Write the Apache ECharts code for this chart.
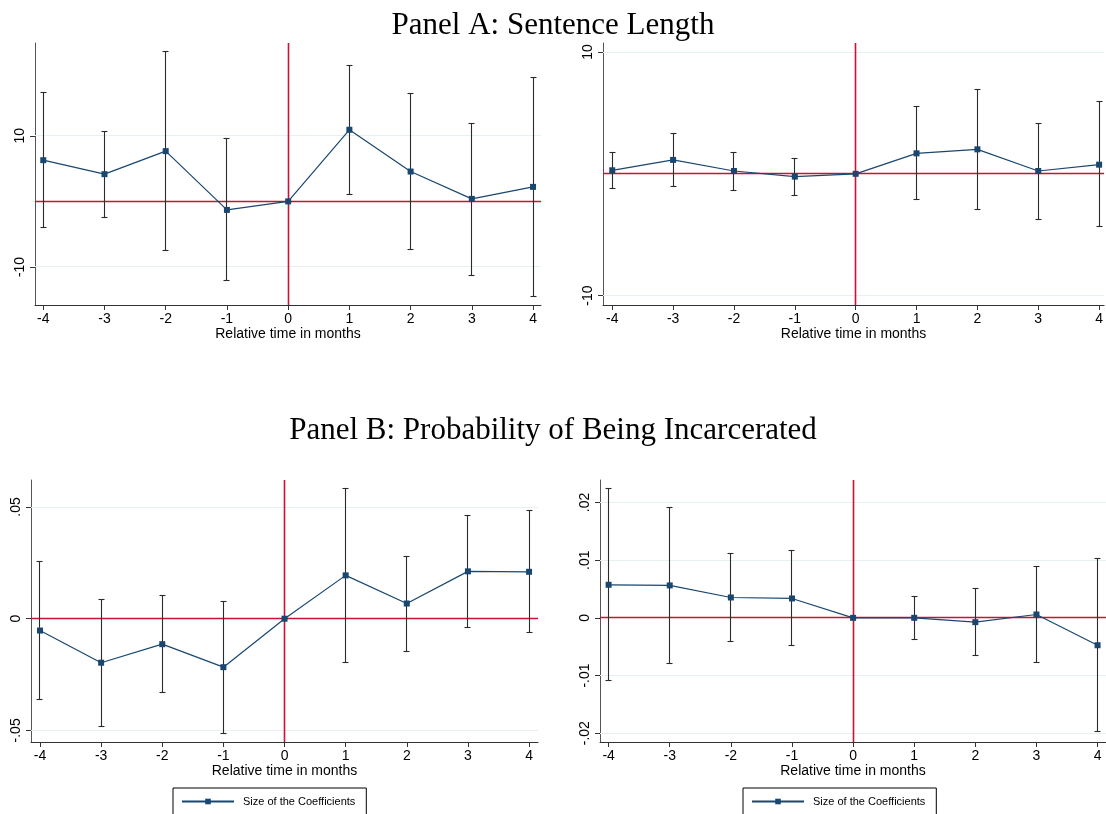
<!DOCTYPE html>
<html>
<head>
<meta charset="utf-8">
<script src="https://cdn.jsdelivr.net/npm/echarts@6/dist/echarts.min.js"></script>
<style>
  html, body { margin: 0; padding: 0; background: #fff; }
  #chart { width: 1106px; height: 814px; }
</style>
</head>
<body>
<div id="chart"></div>
<script>
// ---------------- data ----------------
const months = [-4, -3, -2, -1, 0, 1, 2, 3, 4];

// Panel A (Sentence Length), left plot
const aLeftCoef = [6.28, 4.15, 7.66, -1.30, 0, 10.92, 4.55, 0.38, 2.21];
const aLeftLow  = [-3.94, -2.42, -7.56, -12.10, 0, 1.09, -7.30, -11.27, -14.43];
const aLeftHigh = [16.56, 10.66, 22.82, 9.64, 0, 20.74, 16.51, 11.88, 18.96];

// Panel A (Sentence Length), right plot
const aRightCoef = [0.29, 1.14, 0.23, -0.23, 0, 1.68, 2.01, 0.23, 0.75];
const aRightLow  = [-1.19, -1.05, -1.33, -1.74, 0, -2.12, -2.97, -3.76, -4.34];
const aRightHigh = [1.76, 3.35, 1.79, 1.27, 0, 5.49, 6.96, 4.17, 5.90];

// Panel B (Probability of Being Incarcerated), left plot
const bLeftCoef = [-0.0053, -0.0197, -0.0114, -0.0217, 0, 0.0194, 0.0068, 0.0212, 0.0210];
const bLeftLow  = [-0.0362, -0.0481, -0.0330, -0.0512, 0, -0.0195, -0.0146, -0.0041, -0.0062];
const bLeftHigh = [0.0256, 0.0086, 0.0104, 0.0077, 0, 0.0584, 0.0280, 0.0464, 0.0484];

// Panel B (Probability of Being Incarcerated), right plot
const bRightCoef = [0.00573, 0.00562, 0.00353, 0.00336, 0, 0, -0.00075, 0.00058, -0.00475];
const bRightLow  = [-0.01083, -0.00787, -0.00411, -0.00486, 0, -0.0037, -0.00654, -0.0077, -0.0197];
const bRightHigh = [0.02246, 0.01916, 0.01123, 0.01169, 0, 0.00376, 0.00504, 0.00886, 0.0103];

// tick values and labels
const aLeftYTicks = [-10, 10];
const aLeftYLabels = ['-10', '10'];
const aRightYTicks = [-10, 10];
const aRightYLabels = ['-10', '10'];
const bLeftYTicks = [-0.05, 0, 0.05];
const bLeftYLabels = ['-.05', '0', '.05'];
const bRightYTicks = [-0.02, -0.01, 0, 0.01, 0.02];
const bRightYLabels = ['-.02', '-.01', '0', '.01', '.02'];
const xTickLabels = ['-4', '-3', '-2', '-1', '0', '1', '2', '3', '4'];

const panelATitle = 'Panel A: Sentence Length';
const panelBTitle = 'Panel B: Probability of Being Incarcerated';
const xAxisTitle = 'Relative time in months';
const seriesName = 'Size of the Coefficients';

// ---------------- styling ----------------
const NAVY = '#1a476f';
const RED = '#cc1036';
const GRID = '#e6eff1';
const AXIS = '#333';
const SANS = 'Liberation Sans, Arial, sans-serif';
const SERIF = 'Liberation Serif, Times New Roman, serif';

const panels = [
  { grid: { left: 35, top: 43, width: 506, height: 262 }, xmin: -4.135, xmax: 4.13,
    ymin: -15.8, ymax: 24.15, ticks: aLeftYTicks, labels: aLeftYLabels,
    coef: aLeftCoef, low: aLeftLow, high: aLeftHigh },
  { grid: { left: 603, top: 43, width: 503, height: 262 }, xmin: -4.152, xmax: 4.082,
    ymin: -10.77, ymax: 10.74, ticks: aRightYTicks, labels: aRightYLabels,
    coef: aRightCoef, low: aRightLow, high: aRightHigh },
  { grid: { left: 31, top: 480, width: 507, height: 262 }, xmin: -4.147, xmax: 4.146,
    ymin: -0.0552, ymax: 0.0621, ticks: bLeftYTicks, labels: bLeftYLabels,
    coef: bLeftCoef, low: bLeftLow, high: bLeftHigh },
  { grid: { left: 600, top: 480, width: 506, height: 262 }, xmin: -4.141, xmax: 4.138,
    ymin: -0.02153, ymax: 0.0239, ticks: bRightYTicks, labels: bRightYLabels,
    coef: bRightCoef, low: bRightLow, high: bRightHigh }
];

const crisp = v => Math.round(v - 0.5) + 0.5;

const grids = [], xAxes = [], yAxes = [], series = [];

panels.forEach((p, i) => {
  grids.push(Object.assign({ containLabel: false }, p.grid));
  xAxes.push({
    type: 'value', gridIndex: i, min: p.xmin, max: p.xmax,
    name: xAxisTitle, nameLocation: 'middle', nameGap: 21,
    nameTextStyle: { fontFamily: SANS, fontSize: 14, color: '#000' },
    axisLine: { show: true, onZero: false, lineStyle: { color: AXIS, width: 1 } },
    axisTick: { show: true, length: 5, inside: false, customValues: months, lineStyle: { color: AXIS } },
    axisLabel: { show: true, margin: 7, fontFamily: SANS, fontSize: 14, color: '#000',
      customValues: months,
      formatter: v => { const k = months.indexOf(Math.round(v)); return k >= 0 ? xTickLabels[k] : ''; } },
    splitLine: { show: false }
  });
  yAxes.push({
    type: 'value', gridIndex: i, min: p.ymin, max: p.ymax,
    axisLine: { show: true, onZero: false, lineStyle: { color: '#555', width: 1 } },
    axisTick: { show: true, length: 5, inside: false, customValues: p.ticks, lineStyle: { color: AXIS } },
    axisLabel: { show: true, rotate: 90, margin: 8, fontFamily: SANS, fontSize: 14, color: '#000',
      customValues: p.ticks,
      formatter: v => { let k = -1; p.ticks.forEach((t, j) => { if (Math.abs(t - v) < 1e-9) k = j; }); return k >= 0 ? p.labels[k] : ''; } },
    splitLine: { show: false }
  });

  // reference lines: kind 0 = light gridline at a y tick, 1 = red line at y = 0, 2 = red line at x = 0
  const refData = p.ticks.filter(t => t !== 0).map(t => [0, t, 0]);
  refData.push([0, 0, 1]);
  refData.push([0, 0, 2]);
  series.push({
    name: 'ref' + i, type: 'custom', xAxisIndex: i, yAxisIndex: i, z: 1, silent: true,
    data: refData, encode: { x: 0, y: 1 },
    renderItem: (params, api) => {
      const cs = params.coordSys;
      const kind = api.value(2);
      const pt = api.coord([api.value(0), api.value(1)]);
      const color = kind === 0 ? GRID : RED;
      const lw = kind === 0 ? 1 : 1.6;
      let shape;
      if (kind === 2) {
        const x = crisp(pt[0]);
        shape = { x1: x, y1: cs.y, x2: x, y2: cs.y + cs.height };
      } else {
        const y = crisp(pt[1]);
        shape = { x1: cs.x, y1: y, x2: cs.x + cs.width, y2: y };
      }
      return { type: 'line', shape, style: { stroke: color, lineWidth: lw }, z2: kind === 0 ? 0 : 1 };
    }
  });

  // error bars
  series.push({
    name: 'ci' + i, type: 'custom', xAxisIndex: i, yAxisIndex: i, z: 3, silent: true,
    data: months.map((m, k) => [m, p.low[k], p.high[k]]),
    encode: { x: 0, y: [1, 2] },
    renderItem: (params, api) => {
      const xv = api.value(0);
      const lo = api.coord([xv, api.value(1)]);
      const hi = api.coord([xv, api.value(2)]);
      const x = crisp(lo[0]);
      const yl = crisp(lo[1]), yh = crisp(hi[1]);
      const w = 3;
      const style = { stroke: '#2a2a2a', lineWidth: 1.1 };
      return {
        type: 'group',
        children: [
          { type: 'line', shape: { x1: x, y1: yl, x2: x, y2: yh }, style },
          { type: 'line', shape: { x1: x - w, y1: yh, x2: x + w, y2: yh }, style },
          { type: 'line', shape: { x1: x - w, y1: yl, x2: x + w, y2: yl }, style }
        ]
      };
    }
  });

  // coefficients
  series.push({
    name: seriesName, type: 'line', xAxisIndex: i, yAxisIndex: i, z: 4,
    data: months.map((m, k) => [m, p.coef[k]]),
    symbol: 'rect', symbolSize: 6, showAllSymbol: true,
    color: NAVY,
    lineStyle: { color: NAVY, width: 1.2 },
    itemStyle: { color: NAVY },
    animation: false
  });
});

const legendBase = {
  data: [seriesName], orient: 'horizontal', top: 788,
  itemWidth: 52, itemHeight: 7, padding: [8, 11, 12, 8],
  borderColor: '#000', borderWidth: 1, backgroundColor: '#fff',
  selectedMode: false,
  textStyle: { fontFamily: SANS, fontSize: 11, color: '#000', padding: [0, 0, 0, 4] }
};

const option = {
  backgroundColor: '#fff',
  animation: false,
  title: [
    { text: panelATitle, left: 'center', top: 5,
      textStyle: { fontFamily: SERIF, fontSize: 31, fontWeight: 'normal', color: '#000' } },
    { text: panelBTitle, left: 'center', top: 410,
      textStyle: { fontFamily: SERIF, fontSize: 31, fontWeight: 'normal', color: '#000' } }
  ],
  legend: [
    Object.assign({}, legendBase, { left: 173 }),
    Object.assign({}, legendBase, { left: 743 })
  ],
  grid: grids,
  xAxis: xAxes,
  yAxis: yAxes,
  series: series
};

const chart = echarts.init(document.getElementById('chart'), null, { renderer: 'canvas' });
chart.setOption(option);
</script>
</body>
</html>
